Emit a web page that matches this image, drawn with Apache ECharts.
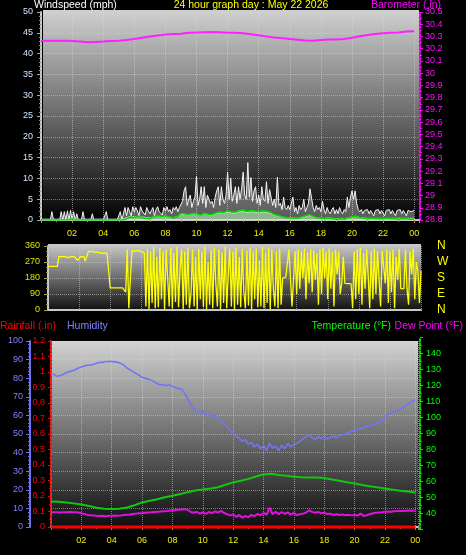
<!DOCTYPE html>
<html><head><meta charset="utf-8">
<script src="https://cdn.jsdelivr.net/npm/echarts@6/dist/echarts.min.js"></script>
<style>html,body{margin:0;padding:0;background:#000;}#c{width:466px;height:555px;}</style>
</head><body><div id="c"></div>
<script>
// ---------- DATA ----------
const hourLabels = ['02','04','06','08','10','12','14','16','18','20','22','00'];
const dirLetters = {0:'N',90:'E',180:'S',270:'W',360:'N'};
// wind gust (mph), every 0.1 h
const gustStep = 0.1;
const gust = [
 0,0,0,0,0,0,0,2,0,0,
 0,0,0,2,0,2,0,2.2,0,2.3,
 0,2,0,1.5,0,0,0,2,0,0,
 0,0,0,1.5,0,0,0,0,0,0,
 0,0,2,0,0,0,0,0,0,0,
 0,2,0,0,3,1,3,2,1,3.2,
 2,3,2.2,1,3.2,2.2,2.5,1.2,3,2.2,
 1.5,2.3,3,1,2.5,3.2,2,2.3,1.2,3,
 2.2,3.2,2,2.5,1.5,3,2.4,3.2,2,3,
 3.2,4.5,7,8,3.5,5,6,3,4.5,5.5,
 10.5,3.5,5,8,4,8,3,6,5,4,
 4.5,3,5.5,7,8,3.5,8,5,4,6,
 11.5,5,10,4.5,6,8,4,8,5,7.5,
 11.5,6,5,13.8,5.5,10.2,4.5,7,8,4,
 6,3.5,8,5,4.5,9.2,4,7.3,7,3.5,
 5,3,10.3,3.5,4,2.5,5.5,3,2.5,3.5,
 2.5,4,5.5,2,3,1.5,3.5,2.5,3,5,
 2,3,4,7.5,7.5,3,2,3.5,2.5,3,
 2,4.5,2.5,1.5,3,2,1.5,2.5,3,1.5,
 2.5,1.5,3,2,1.5,2.5,2,5.5,3,5.5,
 7,5,7,4,2.5,2,2.5,1.5,2.3,2,
 2.5,1.5,2.3,2.5,1,2.3,2,2.5,1.5,2.3,
 2.5,1,2.3,2,2.5,1.5,2.3,2.5,1,2.3,
 2,2.5,1.5,2.3,2.5,1,2.3,2.5,2,2.3,
 2.3];
// wind speed (pale green fill) and average (green line), every 0.25 h
const windStep = 0.25;
const windSpeed = [
 0.2,0.2,0.2,0.2, 0.2,0.2,0.2,0.2, 0.4,0.2,0.2,0.2, 0.2,0.2,0.2,0.2, 0.2,0.2,0.2,0.2,
 0.2,0.2,0.6,0.8, 0.8,0.9,0.7,0.6, 0.5,0.8,0.9,0.8, 0.9,0.7,0.6,0.8,
 1.3,1.4,1.2,1.5, 1.4,1.2,1.5,1.3, 1.2,1.5,1.8,1.6, 1.9,1.7,1.6,2.0,
 2.0,1.8,2.0,1.9, 1.7,1.9,1.8,1.6, 1.1,1.0,0.7,0.6, 0.5,0.5,0.4,0.6,
 0.8,1.1,0.8,0.5, 0.4,0.4,0.5,0.4, 0.3,0.4,0.3,0.5, 0.8,0.9,0.6,0.5,
 0.4,0.4,0.4,0.4, 0.4,0.4,0.4,0.4, 0.4,0.4,0.4,0.4, 0.4];
const windAvg = [
 0,0,0,0, 0,0,0,0, 0.3,0,0,0, 0,0,0,0, 0,0,0,0,
 0,0,0.3,0.7, 0.6,0.9,0.5,0.4, 0.3,0.8,1,0.9, 1,0.8,0.5,0.7,
 1.6,1.5,1.3,1.6, 1.5,1.2,1.6,1.4, 1.3,1.7,2.0,1.8, 2.2,2.0,1.9,2.3,
 2.4,2.1,2.3,2.2, 2.0,2.3,2.1,1.9, 1.3,1.1,0.8,0.6, 0.5,0.5,0.4,0.7,
 1.0,1.3,0.9,0.5, 0.4,0.3,0.4,0.3, 0.2,0.3,0.2,0.5, 0.8,0.9,0.6,0.4,
 0.3,0.4,0.3,0.3, 0.3,0.4,0.3,0.3, 0.2,0.3,0.3,0.2, 0.2];
// barometer (in), every 0.5 h
const baroStep = 0.5;
const baro = [
 30.265,30.265,30.265,30.265,30.262,30.258,30.252,30.255,30.258,30.262,
 30.265,30.272,30.28,30.29,30.30,30.308,30.316,30.32,30.322,30.33,
 30.333,30.335,30.336,30.334,30.33,30.33,30.326,30.318,30.31,30.30,
 30.292,30.286,30.28,30.274,30.268,30.265,30.272,30.275,30.275,30.28,
 30.29,30.302,30.312,30.32,30.326,30.33,30.333,30.34,30.342];
// wind direction (deg), every 0.1 h
const dirStep = 0.1;
const direction = [
 245,245,245,245,245,245,245,300,300,300,
 300,300,290,295,300,300,305,300,300,280,
 280,300,300,300,275,275,330,330,330,330,
 325,325,325,320,320,320,320,320,320,320,
 125,125,125,125,125,125,125,125,125,120,
 100,340,10,15,335,340,330,340,335,345,
 330,340,320,20,345,5,330,40,355,10,
 300,15,350,60,330,5,340,180,20,350,
 10,320,45,355,15,240,340,5,330,30,
 350,10,90,340,20,300,0,345,60,330,
 15,355,5,270,30,340,10,350,150,20,
 340,5,325,40,355,10,210,345,20,330,
 0,350,30,300,15,345,100,10,335,25,
 350,5,330,60,345,15,280,20,355,10,
 320,40,350,5,340,120,20,330,10,345,
 30,180,175,185,180,340,180,20,175,330,
 90,340,120,330,180,345,60,325,150,340,
 100,335,170,320,30,340,90,350,180,330,
 60,345,120,330,20,340,200,330,90,150,
 300,150,148,148,150,148,10,330,60,340,
 90,350,30,320,120,340,200,10,330,60,
 345,90,330,340,20,335,330,150,340,40,
 330,100,340,10,300,170,345,120,125,120,
 340,120,30,330,200,345,60,270,220,40,
 220];
// humidity (%), every 0.2 h
const humStep = 0.2;
const humidity = [
 82.5,82,81,81.5,82,83,83.5,84,84.5,85.5,
 86,86.5,87,87,87.5,88,88.5,88.5,89,89,
 89,88.8,88.5,88,87,85.5,84.5,83.5,82.5,81.5,
 80.5,80,79.5,79,78,77,76.5,76.5,76,76.5,
 75.5,75,74.5,74,72,69,66,63.5,62,61,
 62.5,60,61,59,60.5,58,57,55.5,54,52,
 50,48.5,48,46,47,44.5,45.5,43,44.5,42,
 44,41,45,42.5,43.5,41,44,42,45,43,
 44.5,45,46,47.5,48.5,49.5,48,47,48.5,47.5,
 48.5,47.5,48,49,48,49,49.5,50,50.5,51.5,
 52,52.5,53,53.5,54,54.5,55,55.5,56,57,
 59,60.5,61.5,62,62.5,63.5,64.5,65.5,66.5,67.5,
 68.5];
// dew point (F), every 0.2 h
const dewStep = 0.2;
const dewPoint = [
 40.6,40.7,40.6,40.5,40.7,40.6,40.8,40.6,40.6,40.5,
 40,39.5,39,38.8,38.6,38.4,38.3,38.5,38.2,38.5,
 38.4,38.6,38.5,38.6,38.9,39.1,39.3,39.6,39.8,40,
 40.1,40.3,40.5,40.6,40.8,41,41.1,41.3,41.4,41.6,
 41.8,42,42.2,42.4,42.6,42.2,40.8,40.3,40.9,39.8,
 40.5,39.6,40.8,40.1,41.2,40.4,41.5,40.2,39.5,38.7,
 39.2,37.8,38.9,37.2,38.4,37.5,39,38.2,39.6,38.8,
 40.2,39.1,43.5,39.4,41,39.5,40.8,39.6,40.6,39.2,
 40.2,38.9,39.4,39.8,40.5,41.8,40.9,40.3,40.8,40,
 40.4,39.5,39.8,39,39.4,38.9,39.2,38.8,39.1,38.7,
 39,38.6,39.8,38.3,38.8,39.4,40,40.3,40.5,40.7,
 41,41.1,41,41.3,41.4,41.5,41.4,41.6,41.7,41.6,
 41.8];
// temperature (F), every 0.5 h
const tempStep = 0.5;
const temperature = [
 47.4,47.2,46.7,46.2,45.5,44.5,43.5,42.9,42.7,42.9,
 43.6,45.0,46.8,47.8,48.8,50.0,51.0,52.0,53.2,54.3,
 54.9,55.5,56.3,57.8,59.3,60.3,61.5,63.0,64.2,64.7,
 64.0,63.4,62.9,62.5,62.4,62.3,62.0,61.1,60.3,59.4,
 58.6,57.7,56.9,56.2,55.5,54.8,54.1,53.6,53.0];
// rainfall (in), hourly
const rainStep = 1;
const rainfall = [0,0,0,0,0,0,0,0,0,0,0,0,0,0,0,0,0,0,0,0,0,0,0,0,0];
// sunrise / sunset (hours)
const sunEvents = [5.69, 20.45];

// ---------- CHART ----------
const FONT = "'Liberation Sans',Arial,sans-serif";
const TFONT = "'Liberation Sans',Arial,sans-serif";
const LFS = 9;
const toXY = (arr, step) => arr.map((v, i) => [+(i * step).toFixed(3), v]);
const hourFmt = v => {
  const k = Math.round(v / 2);
  return (Math.abs(v - 2 * k) < 1e-6 && k >= 1 && k <= 12) ? hourLabels[k - 1] : '';
};
const dotted = (c, w) => ({ show: true, lineStyle: { color: c, type: 'dotted', width: w || 1 } });
const grad = (stops) => ({ type: 'linear', x: 0, y: 0, x2: 0, y2: 1,
  colorStops: stops.map(s => ({ offset: s[0], color: s[1] })) });

const chart = echarts.init(document.getElementById('c'), null, { renderer: 'canvas' });
const gridBase = { containLabel: false, outerBoundsMode: 'none' };
const xCommon = (gi, max, showLabels) => ({
  type: 'value', gridIndex: gi, min: 0, max: max, interval: 2,
  axisLine: { show: true, onZero: false, lineStyle: { color: '#c8c8c8', width: 2 } },
  axisTick: { show: true, length: 3, lineStyle: { color: '#9a9a30' } },
  minorTick: { show: true, splitNumber: 2, length: 2, lineStyle: { color: '#9a9a30' } },
  axisLabel: { show: showLabels, formatter: hourFmt, color: '#f0f000', fontSize: LFS, fontFamily: FONT, margin: 9 },
  splitLine: dotted('rgba(215,215,215,0.55)')
});
const yLine = (c, w, type) => ({ show: true, onZero: false, lineStyle: { color: c, width: w, type: type || 'solid' } });

const option = {
  animation: false,
  backgroundColor: '#000',
  grid: [
    Object.assign({ left: 41, top: 12, width: 378, height: 208 }, gridBase),
    Object.assign({ left: 48, top: 246, width: 373, height: 64 }, gridBase),
    Object.assign({ left: 51, top: 341, width: 367, height: 186 }, gridBase),
    Object.assign({ left: 51, top: 337.3, width: 367, height: 192 }, gridBase)
  ],
  graphic: [
    { type: 'rect', z: -1, shape: { x: 43, y: 10, width: 376, height: 212 },
      style: { fill: grad([[0, '#d0d0d0'], [0.5, '#6a6a6a'], [1, '#000000']]) } },
    { type: 'rect', z: -1, shape: { x: 48, y: 244, width: 373, height: 67 },
      style: { fill: grad([[0, '#c8c8c8'], [1, '#101010']]) } },
    { type: 'rect', z: -1, shape: { x: 52, y: 341, width: 366, height: 188 },
      style: { fill: grad([[0, '#d2d2d2'], [1, '#0c0c0c']]) } },
    { type: 'text', x: 34, y: 0, style: { text: 'Windspeed (mph)', fill: '#ffffff', font: '10.5px ' + TFONT } },
    { type: 'text', x: 251, y: 0, style: { text: '24 hour graph day : May 22 2026', fill: '#ffff00', font: '10.5px ' + TFONT, textAlign: 'center' } },
    { type: 'text', x: 441, y: 0, style: { text: 'Barometer (.in)', fill: '#ff00ff', font: '10.5px ' + TFONT, textAlign: 'right' } },
    { type: 'text', x: 0, y: 321, style: { text: 'Rainfall (.in)', fill: '#ff0000', font: '10.5px ' + TFONT } },
    { type: 'text', x: 67, y: 321, style: { text: 'Humidity', fill: '#8080ff', font: '10.5px ' + TFONT } },
    { type: 'text', x: 391, y: 321, style: { text: 'Temperature (°F)', fill: '#00ff00', font: '10.5px ' + TFONT, textAlign: 'right' } },
    { type: 'text', x: 463, y: 321, style: { text: 'Dew Point (°F)', fill: '#ff00ff', font: '10.5px ' + TFONT, textAlign: 'right' } }
  ],
  xAxis: [
    xCommon(0, 378 / 15.55, true),
    Object.assign(xCommon(1, 24, false), { axisTick: { show: false }, minorTick: { show: false } }),
    xCommon(2, 367 / 15.18, true),
    { type: 'value', gridIndex: 3, min: 0, max: 367 / 15.18, show: false }
  ],
  yAxis: [
    { // wind
      type: 'value', gridIndex: 0, position: 'left', min: 0, max: 50, interval: 5,
      axisLine: yLine('#c8c8c8', 2),
      axisTick: { show: true, length: 4, lineStyle: { color: '#a8a8a8' } },
      minorTick: { show: true, splitNumber: 5, length: 2, lineStyle: { color: '#8a8a8a' } },
      axisLabel: { color: '#cfe6ff', fontSize: LFS, fontFamily: FONT, margin: 8 },
      splitLine: dotted('rgba(215,215,215,0.5)')
    },
    { // barometer
      type: 'value', gridIndex: 0, position: 'right', offset: 1, min: 28.8, max: 30.5, interval: 0.1,
      axisLine: yLine('#ff00ff', 2, 'dotted'),
      axisTick: { show: true, length: 3, lineStyle: { color: '#ff00ff' } },
      minorTick: { show: true, splitNumber: 2, length: 2, lineStyle: { color: '#ff00ff' } },
      axisLabel: { color: '#ff10ff', fontSize: LFS, fontFamily: FONT, margin: 5,
        formatter: v => { const r = Math.round(v * 10) / 10; return Math.abs(r - Math.round(r)) < 1e-6 ? String(Math.round(r)) : r.toFixed(1); } },
      splitLine: { show: false }
    },
    { // direction degrees
      type: 'value', gridIndex: 1, position: 'left', min: 0, max: 360, interval: 90,
      axisLine: yLine('#c8c8c8', 2),
      axisTick: { show: true, length: 4, lineStyle: { color: '#a0a040' } },
      minorTick: { show: true, splitNumber: 3, length: 2, lineStyle: { color: '#a0a040' } },
      axisLabel: { color: '#e0e000', fontSize: LFS, fontFamily: FONT, margin: 8 },
      splitLine: dotted('rgba(215,215,215,0.5)')
    },
    { // direction letters
      type: 'value', gridIndex: 1, position: 'right', min: 0, max: 360, interval: 90,
      axisLine: { show: false, onZero: false }, axisTick: { show: false }, splitLine: { show: false },
      axisLabel: { color: '#ffff00', fontSize: 12, fontFamily: TFONT, margin: 16,
        formatter: v => dirLetters[Math.round(v)] || '' }
    },
    { // humidity
      type: 'value', gridIndex: 2, position: 'left', offset: 21, min: 0, max: 100, interval: 10,
      axisLine: yLine('#7070f0', 2),
      axisTick: { show: true, length: 4, lineStyle: { color: '#7070f0' } },
      minorTick: { show: true, splitNumber: 5, length: 2, lineStyle: { color: '#7070f0' } },
      axisLabel: { color: '#8080ff', fontSize: LFS, fontFamily: FONT, margin: 7 },
      splitLine: dotted('rgba(215,215,215,0.5)')
    },
    { // rainfall
      type: 'value', gridIndex: 2, position: 'left', offset: 0, min: 0, max: 1.2, interval: 0.1,
      axisLine: yLine('#ff2020', 2, 'dotted'),
      axisTick: { show: true, length: 3, lineStyle: { color: '#ff0000' } },
      minorTick: { show: true, splitNumber: 2, length: 2, lineStyle: { color: '#ff0000' } },
      axisLabel: { color: '#ff0000', fontSize: LFS, fontFamily: FONT, margin: 6,
        formatter: v => String(Math.round(v * 10) / 10) },
      splitLine: { show: false }
    },
    { // temperature / dew point
      type: 'value', gridIndex: 3, position: 'right', offset: 2, min: 30, max: 150, interval: 10,
      axisLine: yLine('#00e000', 2, 'dotted'),
      axisTick: { show: true, length: 3, lineStyle: { color: '#00e000' } },
      minorTick: { show: true, splitNumber: 2, length: 2, lineStyle: { color: '#00e000' } },
      axisLabel: { color: '#00ff00', fontSize: LFS, fontFamily: FONT, margin: 6,
        formatter: v => (v >= 40 && v <= 140) ? String(v) : '' },
      splitLine: { show: false }
    }
  ],
  series: [
    { name: 'gust', type: 'line', xAxisIndex: 0, yAxisIndex: 0, data: toXY(gust, gustStep),
      symbol: 'none', z: 2, lineStyle: { color: '#f4f4f4', width: 1 },
      areaStyle: { color: 'rgba(255,255,255,0.5)' } },
    { name: 'speed', type: 'line', xAxisIndex: 0, yAxisIndex: 0, data: toXY(windSpeed, windStep),
      symbol: 'none', z: 3, lineStyle: { color: '#b8f0b8', width: 1 },
      areaStyle: { color: 'rgba(175,235,175,0.9)' } },
    { name: 'avg', type: 'line', xAxisIndex: 0, yAxisIndex: 0, data: toXY(windAvg, windStep),
      symbol: 'none', z: 4, lineStyle: { color: '#00d800', width: 1.5 } },
    { name: 'baro', type: 'line', xAxisIndex: 0, yAxisIndex: 1, data: toXY(baro, baroStep),
      symbol: 'none', z: 5, lineStyle: { color: '#ff20ff', width: 2 } },
    { name: 'dir', type: 'line', xAxisIndex: 1, yAxisIndex: 2, data: toXY(direction, dirStep),
      symbol: 'none', z: 3, lineStyle: { color: '#ffff00', width: 1.3 } },
    { name: 'humidity', type: 'line', xAxisIndex: 2, yAxisIndex: 4, data: toXY(humidity, humStep),
      symbol: 'none', z: 3, lineStyle: { color: '#7474f4', width: 1.6 } },
    { name: 'temp', type: 'line', xAxisIndex: 3, yAxisIndex: 6, data: toXY(temperature, tempStep),
      symbol: 'none', z: 4, lineStyle: { color: '#10c810', width: 2 } },
    { name: 'dew', type: 'line', xAxisIndex: 3, yAxisIndex: 6, data: toXY(dewPoint, dewStep),
      symbol: 'none', z: 4, lineStyle: { color: '#e010e0', width: 2 } },
    { name: 'rain', type: 'line', xAxisIndex: 2, yAxisIndex: 5, data: toXY(rainfall, rainStep),
      symbol: 'none', z: 6, clip: false, lineStyle: { color: '#ff0000', width: 3 },
      markLine: { silent: true, symbol: 'none', label: { show: false },
        lineStyle: { color: '#c8b400', width: 2, type: 'solid' },
        data: sunEvents.map(t => [{ coord: [t, -0.026] }, { coord: [t, 0.097] }]) } }
  ]
};
chart.setOption(option);
</script></body></html>
